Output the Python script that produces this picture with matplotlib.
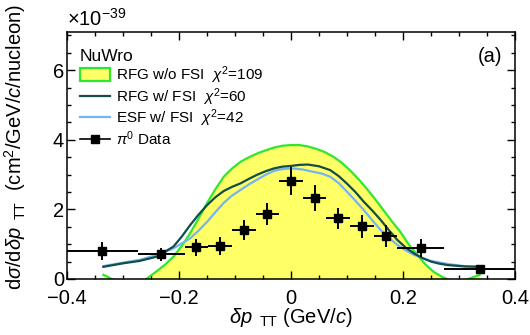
import numpy as np
import matplotlib
matplotlib.use("Agg")
import matplotlib.pyplot as plt
from matplotlib.patches import Patch
from matplotlib.lines import Line2D

plt.rcParams['font.family'] = ['Liberation Sans', 'DejaVu Sans']
plt.rcParams['mathtext.fontset'] = 'custom'
plt.rcParams['mathtext.rm'] = 'Liberation Sans'
plt.rcParams['mathtext.it'] = 'Liberation Sans:italic'
plt.rcParams['mathtext.sf'] = 'Liberation Sans'

# data points (units of 1e-39 cm^2/GeV/c/nucleon)
bin_edges = [-0.4, -0.274, -0.19, -0.148, -0.105, -0.063, -0.021,
             0.021, 0.063, 0.105, 0.148, 0.19, 0.274, 0.4]
data_y = [0.81, 0.71, 0.91, 0.95, 1.41, 1.87, 2.81, 2.32, 1.74, 1.52, 1.23, 0.88, 0.29]
data_err = [0.26, 0.18, 0.24, 0.25, 0.29, 0.32, 0.41, 0.38, 0.30, 0.33, 0.32, 0.26, 0.12]

# NuWro RFG w/o FSI
rfg_x = [-0.335, -0.32, -0.30, -0.28, -0.26, -0.24, -0.225, -0.21, -0.195, -0.18,
         -0.165, -0.15, -0.135, -0.12, -0.105, -0.09, -0.075, -0.06, -0.045, -0.03,
         -0.015, 0.0, 0.015, 0.03, 0.045, 0.06, 0.075, 0.09, 0.105, 0.12, 0.135,
         0.15, 0.165, 0.18, 0.195, 0.21, 0.225, 0.24, 0.255, 0.27, 0.29, 0.31,
         0.325, 0.337]
rfg_y = [0.12, 0.0, -0.1, -0.1, -0.02, 0.22, 0.41, 0.64, 0.95, 1.32,
         1.74, 2.18, 2.58, 2.94, 3.18, 3.37, 3.5, 3.61, 3.7, 3.78,
         3.83, 3.85, 3.85, 3.81, 3.74, 3.65, 3.52, 3.35, 3.13, 2.88, 2.6,
         2.3, 1.98, 1.66, 1.36, 1.0, 0.7, 0.42, 0.2, 0.06, -0.08, -0.04,
         0.05, 0.12]

# NuWro RFG w/ FSI
fsi_x = [-0.335, -0.30, -0.27, -0.24, -0.21, -0.195, -0.18, -0.165, -0.15, -0.135,
         -0.12, -0.105, -0.09, -0.075, -0.06, -0.045, -0.03, -0.015, 0.0, 0.015,
         0.03, 0.05, 0.07, 0.085, 0.1, 0.115, 0.13, 0.145, 0.16, 0.175, 0.19,
         0.205, 0.22, 0.235, 0.25, 0.265, 0.28, 0.31, 0.337]
fsi_y = [0.35, 0.45, 0.52, 0.64, 0.93, 1.22, 1.55, 1.85, 2.12, 2.35,
         2.53, 2.65, 2.75, 2.88, 3.0, 3.1, 3.18, 3.23, 3.25, 3.28,
         3.29, 3.24, 3.13, 2.96, 2.74, 2.5, 2.22, 1.97, 1.7, 1.4, 1.12,
         0.9, 0.73, 0.6, 0.5, 0.44, 0.4, 0.36, 0.35]

# NuWro ESF w/ FSI
esf_x = [-0.335, -0.30, -0.27, -0.24, -0.21, -0.18, -0.165, -0.15, -0.135, -0.12,
         -0.105, -0.09, -0.075, -0.06, -0.045, -0.03, -0.015, 0.0, 0.02, 0.04,
         0.055, 0.07, 0.085, 0.1, 0.115, 0.13, 0.145, 0.16, 0.175, 0.19, 0.205,
         0.22, 0.235, 0.25, 0.28, 0.31, 0.337]
esf_y = [0.37, 0.47, 0.55, 0.69, 0.88, 1.17, 1.39, 1.64, 1.92, 2.19,
         2.4, 2.56, 2.72, 2.86, 3.0, 3.11, 3.16, 3.18, 3.15, 3.08,
         3.03, 2.94, 2.76, 2.51, 2.25, 1.98, 1.69, 1.41, 1.18, 0.98, 0.82,
         0.69, 0.6, 0.52, 0.43, 0.37, 0.35]

yellow = '#ffff66'
green = '#2ee82e'
dark = '#124d48'
blue = '#74b4f2'

fig = plt.figure(figsize=(5.3, 3.35), dpi=100)
ax = fig.add_axes([0.1264, 0.1672, 0.8453, 0.7373])

rfg_y_arr = np.array(rfg_y)
ax.fill_between(rfg_x, 0, np.clip(rfg_y_arr, 0, None), color=yellow, lw=0, zorder=1)
ax.plot(rfg_x, rfg_y, color=green, lw=1.6, zorder=2, solid_joinstyle='round')
ax.plot(esf_x, esf_y, color=blue, lw=1.6, zorder=3, solid_joinstyle='round')
ax.plot(fsi_x, fsi_y, color=dark, lw=1.6, zorder=4, solid_joinstyle='round')

edges = np.array(bin_edges)
xc = (edges[:-1] + edges[1:]) / 2
xe = (edges[1:] - edges[:-1]) / 2
ax.errorbar(xc, data_y, xerr=xe, yerr=data_err, fmt='s', color='black',
            ms=6, elinewidth=1.4, capsize=0, zorder=5, clip_on=False)

ax.set_xlim(-0.4, 0.4)
ax.set_ylim(0, 7.1)
ax.set_xticks([-0.4, -0.2, 0, 0.2, 0.4])
ax.set_xticklabels(['\u22120.4', '\u22120.2', '0', '0.2', '0.4'])
ax.set_xticks(np.arange(-0.4, 0.41, 0.05), minor=True)
ax.set_yticks([0, 2, 4, 6])
ax.set_yticks(np.arange(0, 7.1, 0.5), minor=True)
ax.tick_params(which='both', direction='in', top=True, right=True, labelsize=14.5, width=1)
ax.tick_params(which='major', length=5.5)
ax.tick_params(which='minor', length=2.8)
ax.tick_params(axis='x', which='major', pad=7)
ax.tick_params(axis='y', which='major', pad=2)
for s in ax.spines.values():
    s.set_linewidth(1.1)

ax.set_xlabel(r'$\delta p_{\rm \ \ TT}$ (GeV/$c$)', fontsize=14.5, labelpad=-1)
ax.set_ylabel(r'd$\sigma$/d$\delta p_{\rm \ \ TT}$  (cm$^2$/GeV/$c$/nucleon)', fontsize=14.5)
ax.yaxis.set_label_coords(-0.088, 0.535)
ax.text(0.0, 1.01, r'$\times$10$^{-39}$', transform=ax.transAxes, fontsize=14.5, ha='left', va='bottom')
ax.text(0.971, 0.899, '(a)', transform=ax.transAxes, fontsize=14.5, ha='right', va='center')

handles = [
    Patch(facecolor=yellow, edgecolor=green, linewidth=1.6),
    Line2D([], [], color=dark, lw=1.6),
    Line2D([], [], color=blue, lw=1.6),
    Line2D([], [], color='black', lw=1.2, marker='s', ms=6),
]
labels = [r'RFG w/o FSI  $\chi^2$=109', r'RFG w/ FSI  $\chi^2$=60',
          r'ESF w/ FSI  $\chi^2$=42', r'$\pi^0$ Data']
leg = ax.legend(handles, labels, title='NuWro', loc='upper left', bbox_to_anchor=(0.005, 0.973),
                frameon=False, fontsize=11, title_fontsize=12.5, handlelength=1.95,
                handleheight=0.9, handletextpad=0.4, labelspacing=0.0, borderaxespad=0.3)
leg._legend_box.align = 'left'

fig.savefig('out.png', dpi=100)
